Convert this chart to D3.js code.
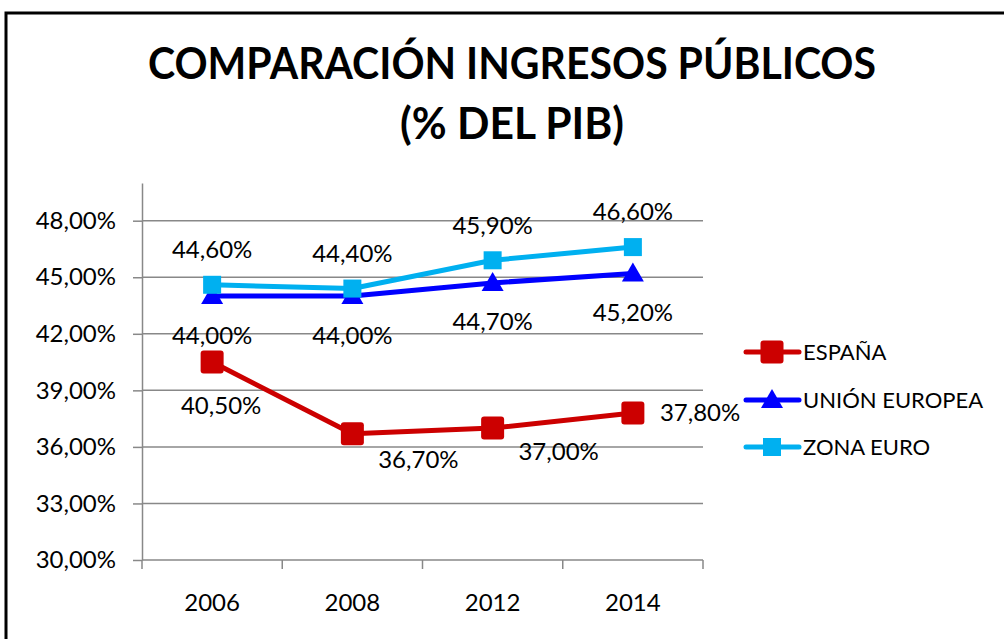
<!DOCTYPE html>
<html>
<head>
<meta charset="utf-8">
<script src="https://cdn.jsdelivr.net/npm/d3@7"></script>
<style>
  body { margin: 0; background: #fff; }
  svg { display: block; font-family: Lato, 'Open Sans', sans-serif; }
</style>
</head>
<body>
<svg id="chart" width="1004" height="639"></svg>
<script>
// data
const years = ['2006', '2008', '2012', '2014']
const espana = [40.5, 36.7, 37.0, 37.8]
const unionEuropea = [44.0, 44.0, 44.7, 45.2]
const zonaEuro = [44.6, 44.4, 45.9, 46.6]
const yTicks = [30, 33, 36, 39, 42, 45, 48]
const seriesNames = ['ESPAÑA', 'UNIÓN EUROPEA', 'ZONA EURO']
const titleLines = ['COMPARACIÓN INGRESOS PÚBLICOS', '(% DEL PIB)']

const series = [
  { name: seriesNames[0], values: espana, color: '#cc0000', marker: 'bigSquare' },
  { name: seriesNames[1], values: unionEuropea, color: '#0000ff', marker: 'triangle' },
  { name: seriesNames[2], values: zonaEuro, color: '#00b0f0', marker: 'square' }
]

// label nudges (dx, dy from the marker), like the hand-moved labels in the original
const labelNudge = {
  'ESPAÑA': [[9, 44], [66, 26], [66, 24], [67, 0]],
  'UNIÓN EUROPEA': [[0, 39], [0, 39], [0, 39], [0, 39]],
  'ZONA EURO': [[0, -35], [0, -35], [0, -35], [0, -35]]
}

const svg = d3.select('#chart')
const es = d3.formatLocale({ decimal: ',', thousands: '.', grouping: [3], currency: ['', '€'] })
const fmt = (v) => es.format('.2f')(v) + '%'

// outer frame
svg.append('rect')
  .attr('x', 6).attr('y', 13)
  .attr('width', 1100).attr('height', 700)
  .attr('fill', 'none').attr('stroke', '#000').attr('stroke-width', 3)

// title
const titleY = [79, 139]
titleLines.forEach((t, i) => {
  svg.append('text')
    .attr('x', 512).attr('y', titleY[i])
    .attr('text-anchor', 'middle')
    .style('font-weight', 'bold')
    .style('font-size', '44px')
    .attr('textLength', i === 0 ? 728 : 224)
    .attr('lengthAdjust', 'spacingAndGlyphs')
    .text(t)
})

const x = d3.scaleBand().domain(years).range([142, 703])
const y = d3.scaleLinear().domain([30, 50]).range([560, 183])
const cx = (d) => x(d) + x.bandwidth() / 2

// gridlines
svg.append('g')
  .selectAll('line')
  .data(yTicks.slice(1))
  .join('line')
  .attr('x1', 142).attr('x2', 703)
  .attr('y1', (d) => y(d)).attr('y2', (d) => y(d))
  .attr('stroke', '#888').attr('stroke-width', 1.5)

// y axis
const yAxis = svg.append('g')
  .attr('transform', 'translate(142,0)')
  .call(d3.axisLeft(y).tickValues(yTicks).tickSize(9).tickPadding(17).tickFormat(fmt).tickSizeOuter(0))
yAxis.select('.domain').attr('stroke', '#888').attr('stroke-width', 1.5)
yAxis.selectAll('.tick line').attr('stroke', '#888').attr('stroke-width', 1.5)
yAxis.selectAll('.tick text').style('font-size', '24px').attr('fill', '#000')
  .style('font-family', 'Lato, sans-serif')

// x axis
const xAxis = svg.append('g').attr('transform', 'translate(0,560)')
xAxis.append('line')
  .attr('x1', 142).attr('x2', 703)
  .attr('stroke', '#888').attr('stroke-width', 1.5)
xAxis.selectAll('line.tk')
  .data(years.map((d) => x(d)).concat([703]))
  .join('line')
  .attr('class', 'tk')
  .attr('x1', (d) => d).attr('x2', (d) => d)
  .attr('y1', 0).attr('y2', 9)
  .attr('stroke', '#888').attr('stroke-width', 1.5)
xAxis.selectAll('text')
  .data(years)
  .join('text')
  .attr('x', cx).attr('y', 43)
  .attr('dy', '0.35em')
  .attr('text-anchor', 'middle')
  .style('font-size', '24px')
  .text((d) => d)

function drawMarker(g, type, color) {
  if (type === 'bigSquare') {
    g.append('rect').attr('x', -11.5).attr('y', -11.5).attr('width', 23).attr('height', 23)
      .attr('rx', 3).attr('fill', color)
  } else if (type === 'square') {
    g.append('rect').attr('x', -9).attr('y', -9).attr('width', 18).attr('height', 18)
      .attr('fill', color)
  } else {
    g.append('path').attr('d', 'M0,-11L11,8L-11,8Z').attr('fill', color)
  }
}

const line = d3.line().x((d) => cx(d.year)).y((d) => y(d.value))

series.forEach((s) => {
  const pts = years.map((yr, i) => ({ year: yr, value: s.values[i] }))
  const g = svg.append('g')
  g.append('path')
    .datum(pts)
    .attr('d', line)
    .attr('fill', 'none')
    .attr('stroke', s.color)
    .attr('stroke-width', 5)
    .attr('stroke-linejoin', 'round')
  pts.forEach((p) => {
    const m = g.append('g').attr('transform', `translate(${cx(p.year)},${y(p.value)})`)
    drawMarker(m, s.marker, s.color)
  })
})

// data labels
series.forEach((s) => {
  years.forEach((yr, i) => {
    const [dx, dy] = labelNudge[s.name][i]
    const right = s.name === 'ESPAÑA' && i === 3
    svg.append('text')
      .attr('x', cx(yr) + (right ? 27 : dx))
      .attr('y', y(s.values[i]) + dy)
      .attr('dy', '0.35em')
      .attr('text-anchor', right ? 'start' : 'middle')
      .style('font-size', '24px')
      .text(fmt(s.values[i]))
  })
})

// legend
const legendY = [352, 400, 447]
series.forEach((s, i) => {
  const g = svg.append('g').attr('transform', `translate(0,${legendY[i]})`)
  g.append('line')
    .attr('x1', 746).attr('x2', 799)
    .attr('stroke', s.color).attr('stroke-width', 5).attr('stroke-linecap', 'round')
  const m = g.append('g').attr('transform', 'translate(772,0)')
  drawMarker(m, s.marker, s.color)
  g.append('text')
    .attr('x', 803).attr('dy', '0.35em')
    .style('font-size', '22px')
    .text(s.name)
})
</script>
</body>
</html>
